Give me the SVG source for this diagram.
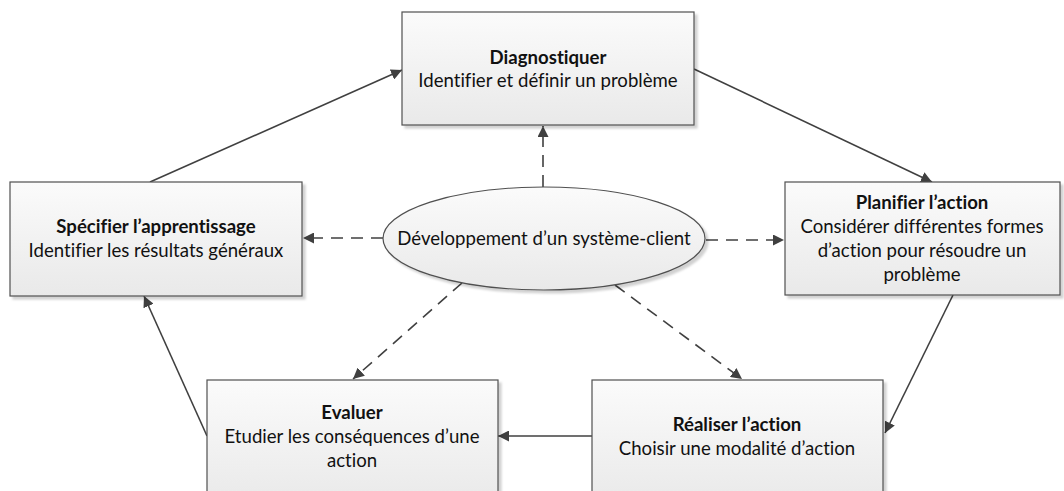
<svg xmlns="http://www.w3.org/2000/svg" width="1064" height="491" viewBox="0 0 1064 491">
<defs>
<linearGradient id="g" x1="0" y1="0" x2="0" y2="1">
<stop offset="0" stop-color="#fbfbfb"/>
<stop offset="1" stop-color="#e9e9e9"/>
</linearGradient>
<marker id="ah" viewBox="0 0 10 10" refX="10" refY="5" markerWidth="11" markerHeight="11" markerUnits="userSpaceOnUse" orient="auto">
<path d="M0,0 L10,5 L0,10 z" fill="#404040"/>
</marker>
<filter id="sh" x="-5%" y="-5%" width="115%" height="115%">
<feDropShadow dx="3" dy="3" stdDeviation="1" flood-color="#000" flood-opacity="0.18"/>
</filter>
</defs>
<style>
.box{fill:url(#g);stroke:#505050;stroke-width:1.2;filter:url(#sh)}
.t{font-family:Lato,"Liberation Sans",sans-serif;font-size:18.6px;fill:#111;text-anchor:middle;font-variant-ligatures:none}
.b{font-weight:bold}
.c{fill:none;stroke:#404040;stroke-width:1.6;marker-end:url(#ah)}
.d{stroke-dasharray:12 8}
</style>
<rect width="1064" height="491" fill="#fff"/>
<g id="connectors">
<line class="c" x1="150" y1="182" x2="402" y2="70"/>
<line class="c" x1="694" y1="69" x2="932" y2="182"/>
<line class="c" x1="953" y1="295" x2="885" y2="433"/>
<line class="c" x1="592" y1="436" x2="498" y2="436"/>
<line class="c" x1="207" y1="436" x2="144" y2="296"/>
<line class="c d" x1="543" y1="187" x2="543" y2="126"/>
<line class="c d" x1="383" y1="238" x2="303" y2="238"/>
<line class="c d" x1="706" y1="240" x2="784" y2="240"/>
<line class="c d" x1="462" y1="283" x2="353" y2="379"/>
<line class="c d" x1="615" y1="285" x2="742" y2="379"/>
</g>
<g id="diagnostiquer">
<rect class="box" x="402" y="12" width="292" height="113"/>
<text class="t b" x="548" y="64">Diagnostiquer</text>
<text class="t" x="548" y="87">Identifier et définir un problème</text>
</g>
<g id="specifier">
<rect class="box" x="10" y="182" width="292" height="114"/>
<text class="t b" x="156" y="233">Spécifier l’apprentissage</text>
<text class="t" x="156" y="257">Identifier les résultats généraux</text>
</g>
<g id="planifier">
<rect class="box" x="785" y="182" width="275" height="113"/>
<text class="t b" x="922" y="209">Planifier l’action</text>
<text class="t" x="922" y="233">Considérer différentes formes</text>
<text class="t" x="922" y="257">d’action pour résoudre un</text>
<text class="t" x="922" y="281">problème</text>
</g>
<g id="evaluer">
<rect class="box" x="207" y="380" width="291" height="125"/>
<text class="t b" x="352" y="419">Evaluer</text>
<text class="t" x="352" y="443">Etudier les conséquences d’une</text>
<text class="t" x="352" y="467">action</text>
</g>
<g id="realiser">
<rect class="box" x="592" y="380" width="291" height="125"/>
<text class="t b" x="737" y="431">Réaliser l’action</text>
<text class="t" x="737" y="455">Choisir une modalité d’action</text>
</g>
<g id="systeme-client">
<ellipse class="box" cx="544" cy="238.5" rx="161" ry="51.5"/>
<text class="t" x="544" y="245">Développement d’un système-client</text>
</g>
</svg>
